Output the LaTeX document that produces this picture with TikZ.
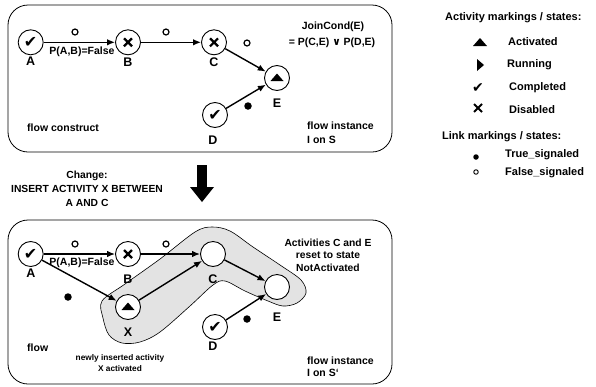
\documentclass[tikz,border=0pt]{standalone}
\usepackage{fontspec}
\setmainfont{Liberation Sans}
\newfontfamily\symfont{DejaVu Sans}
\usetikzlibrary{arrows.meta}
\begin{document}
\begin{tikzpicture}[x=1pt,y=-1pt,
  lbl/.style={font=\bfseries\fontsize{10.5}{12.5}\selectfont, inner sep=0pt},
  nlbl/.style={font=\bfseries\fontsize{12.5}{13}\selectfont, inner sep=0pt},
  leg/.style={font=\bfseries\fontsize{11}{13}\selectfont, inner sep=0pt, anchor=west},
  small/.style={font=\bfseries\fontsize{8.3}{11.5}\selectfont, inner sep=0pt, align=center},
  frame/.style={draw, line width=0.8pt, rounded corners=20pt},
  act/.style={circle, draw, line width=0.9pt, fill=white, minimum size=25pt, inner sep=0pt},
  compl/.style={act, font=\symfont\fontsize{16}{16}\selectfont},
  disab/.style={act, path picture={
     \draw[black, line width=2.2pt] ([shift={(-4pt,-4pt)}]path picture bounding box.center) -- ++(8pt,8pt)
                           ([shift={(-4pt,4pt)}]path picture bounding box.center) -- ++(8pt,-8pt);}},
  activ/.style={act, path picture={
     \fill[black] ([shift={(-6.5pt,-3pt)}]path picture bounding box.center) -- ++(13pt,0pt) -- ++(-6.5pt,7.5pt) -- cycle;}},
  edge/.style={line width=1.4pt, -{Latex[length=8pt,width=6.5pt]}},
  fdot/.style={circle, draw, line width=1.2pt, minimum size=6pt, inner sep=0pt},
  tdot/.style={circle, fill, minimum size=7.5pt, inner sep=0pt},
  blob/.style={draw, line width=0.6pt, fill=black!11}
]
\useasboundingbox (0,0) rectangle (596,386);

% ---------- top frame ----------
\draw[frame] (8,5) rectangle (392,152);
\node[compl] (A1) at (30.7,42.3) {✔};
\node[disab] (B1) at (128,42.3) {};
\node[disab] (C1) at (214,42.3) {};
\node[activ] (E1) at (277,78) {};
\node[compl] (D1) at (215,115) {✔};
\draw[edge] (A1) -- (B1);
\draw[edge] (B1) -- (C1);
\draw[edge] (C1) -- (E1);
\draw[edge] (D1) -- (E1);
\node[nlbl] (lA1) at (30.7,61) {A};
\node[nlbl] (lB1) at (128,62) {B};
\node[nlbl] (lC1) at (214,62) {C};
\node[nlbl] (lE1) at (277,103) {E};
\node[nlbl] (lD1) at (213,140) {D};
\node[fdot] (o11) at (75,32) {};
\node[fdot] (o12) at (166,32) {};
\node[fdot] (o13) at (247,43) {};
\node[tdot] (t11) at (248,106) {};
\node[lbl] (p1) at (82,52) {P(A,B)=False};
\node[lbl] (jc1) at (333,27) {JoinCond(E)};
\node[lbl] (jc2) at (332,43) {= P(C,E) {\symfont\bfseries ∨} P(D,E)};
\node[lbl, anchor=west] (fc) at (27,128) {flow construct};
\node[lbl, anchor=north west, align=left, font=\bfseries\fontsize{10.5}{13.5}\selectfont] (fi1) at (307,122) {flow instance\\I on S};

% ---------- change ----------
\node[lbl, align=center, font=\bfseries\fontsize{10.3}{14}\selectfont] (chg) at (87,189) {Change:\\INSERT ACTIVITY X BETWEEN\\A AND C};
\fill (197,165) rectangle (207,188);
\fill (190,187) -- (214,187) -- (202,202) -- cycle;
\coordinate (bigarrow) at (202,185);

% ---------- bottom frame ----------
\draw[frame] (8,220) rectangle (392,384);
\draw[blob] plot[smooth cycle, tension=0.55] coordinates {
  (102,301) (125,284) (160,259) (195,232) (212,227) (230,231) (253,247)
  (280,265) (301,280) (306,293) (297,303) (283,306) (268,301) (245,291)
  (225,281) (213,285) (190,306) (160,332) (140,342) (122,343) (109,335) (103,318)};
\node[compl] (A2) at (30.7,254) {✔};
\node[disab] (B2) at (128,254) {};
\node[act] (C2) at (213,254) {};
\node[act] (E2) at (277,287) {};
\node[activ] (X2) at (128,307) {};
\node[compl] (D2) at (215,327) {✔};
\draw[edge] (A2) -- (B2);
\draw[edge] (B2) -- (C2);
\draw[edge] (A2) -- (X2);
\draw[edge] (X2) -- (C2);
\draw[edge] (C2) -- (E2);
\draw[edge] (D2) -- (E2);
\node[nlbl] (lA2) at (31,273) {A};
\node[nlbl] (lB2) at (128,279) {B};
\node[nlbl] (lC2) at (213,279) {C};
\node[nlbl] (lE2) at (277,317) {E};
\node[nlbl] (lX2) at (128,332) {X};
\node[nlbl] (lD2) at (213,346) {D};
\node[fdot] (o21) at (75,244) {};
\node[fdot] (o22) at (166,244) {};
\node[tdot] (t21) at (68,297) {};
\node[tdot] (t22) at (247,319) {};
\node[lbl] (p2) at (82,263) {P(A,B)=False};
\node[lbl, align=center, font=\bfseries\fontsize{10.3}{12.5}\selectfont] (rst) at (328,255) {Activities C and E\\reset to state\\NotActivated};
\node[lbl, anchor=west] (fl) at (27,348) {flow};
\node[small] (nia) at (120,363) {newly inserted activity\\X activated};
\node[lbl, anchor=north west, align=left, font=\bfseries\fontsize{10.5}{11.8}\selectfont] (fi2) at (307,357) {flow instance\\I on S‘};

% ---------- legend ----------
\node[leg] (h1) at (445,18) {Activity markings / states:};
\fill (473,46) -- (487,46) -- (480,38) -- cycle;
\coordinate (symAct) at (480,42);
\node[leg] (la) at (508,42) {Activated};
\fill (477,59) -- (484,65) -- (477,71) -- cycle;
\node[leg] (lr) at (507,65) {Running};
\node[inner sep=0pt, font=\symfont\fontsize{14}{14}\selectfont] (sc) at (478,88) {✔};
\node[leg] (lc) at (509,88) {Completed};
\draw[line width=2pt] (474,104) -- (482,112) (474,112) -- (482,104);
\node[leg] (ld) at (509,110) {Disabled};
\node[leg] (h2) at (442,137) {Link markings / states:};
\node[tdot, minimum size=5.5pt] (st) at (476,157) {};
\node[leg] (lt) at (505,155) {True\_signaled};
\node[fdot, minimum size=4.5pt, line width=0.9pt] (sf) at (476,172) {};
\node[leg] (lf) at (505,173) {False\_signaled};
\end{tikzpicture}
\end{document}
